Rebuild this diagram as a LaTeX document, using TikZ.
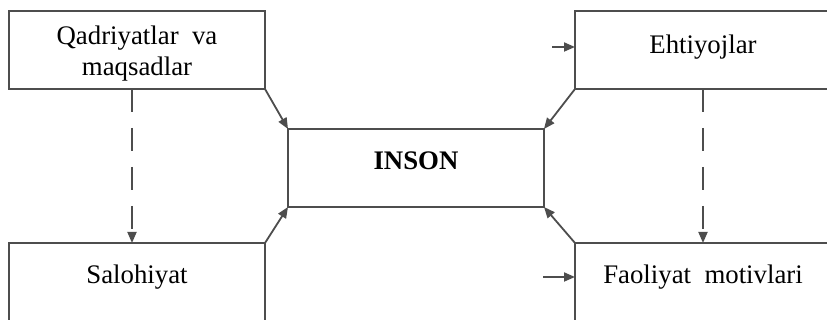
\documentclass[tikz,border=0pt]{standalone}
\usepackage{fontspec}
\setmainfont{Liberation Serif}
\usepackage{tikz}
\usetikzlibrary{arrows.meta,positioning}
\definecolor{ln}{HTML}{4D4D4D}

\begin{document}
\begin{tikzpicture}[font=\fontsize{13.4}{15.5}\selectfont,>=Triangle,
  box/.style={draw=ln,line width=0.9pt,minimum width=128pt,minimum height=39pt,
    inner sep=0pt,outer sep=0pt,align=center,text depth=6pt},
  lowbox/.style={box,text depth=8pt},
  arr/.style={-{Triangle[length=5.5pt,width=4.5pt]},line width=0.9pt,draw=ln},
  dasharr/.style={arr,dash pattern=on 11.5pt off 8pt}]
  \useasboundingbox (0,0) rectangle (413.5pt,-160pt);
  \node[box,anchor=north west,text depth=0pt,text height=26pt] (qadr) at (4.5pt,-5.5pt)
    {Qadriyatlar\enspace va\\maqsadlar};
  \node[box,right=155pt of qadr] (ehti) {Ehtiyojlar};
  \node[lowbox,below=77pt of qadr] (salo) {Salohiyat};
  \node[lowbox,below=77pt of ehti] (faol) {Faoliyat\enspace motivlari};
  \node[box,below right=20pt and 11.5pt of qadr,text depth=7.5pt] (inson) {\textbf{INSON}};
  % corner arrows into the centre
  \draw[arr] (qadr.south east) -- (inson.north west);
  \draw[arr] (ehti.south west) -- (inson.north east);
  \draw[arr] (salo.north east) -- (inson.south west);
  \draw[arr] (faol.north west) -- (inson.south east);
  % dashed links downwards
  \draw[dasharr] ([xshift=-2.5pt]qadr.south) -- ([xshift=-2.5pt]salo.north);
  \draw[dasharr] (ehti.south) -- (faol.north);
  % short inputs on the right
  \coordinate[above left=1.5pt and 11.5pt of ehti.west] (ehtiIn);
  \coordinate[above left=2.5pt and 16pt of faol.west] (faolIn);
  \draw[arr] (ehtiIn) -- (ehtiIn -| ehti.west);
  \draw[arr] (faolIn) -- (faolIn -| faol.west);
\end{tikzpicture}
\end{document}
